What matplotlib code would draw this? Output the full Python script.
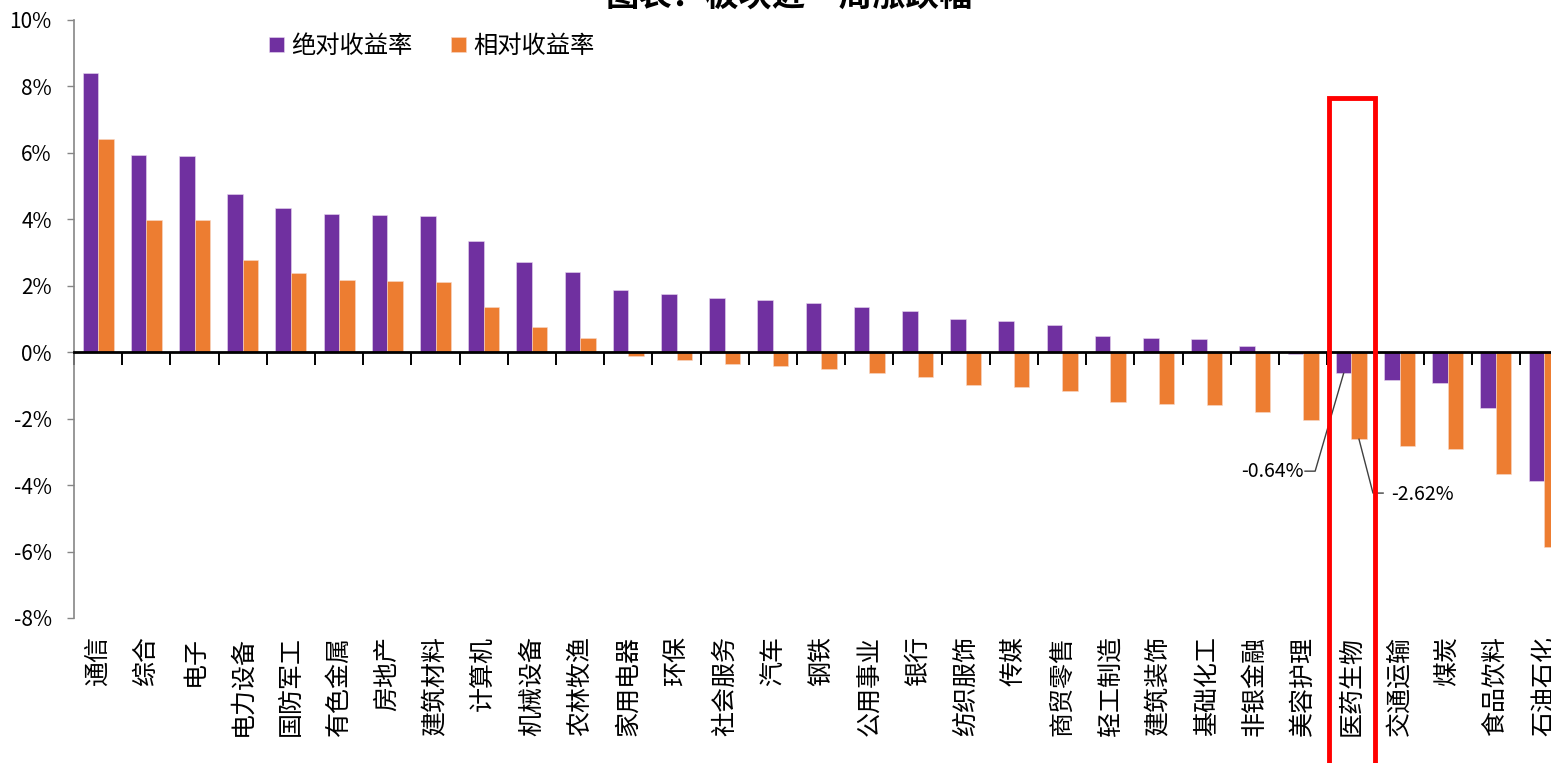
import matplotlib.pyplot as plt
import numpy as np

plt.rcParams['font.family'] = ['Noto Sans CJK SC', 'DejaVu Sans']

# weekly returns by sector (%)
SECTORS = ['通信', '综合', '电子', '电力设备', '国防军工', '有色金属', '房地产',
           '建筑材料', '计算机', '机械设备', '农林牧渔', '家用电器', '环保', '社会服务',
           '汽车', '钢铁', '公用事业', '银行', '纺织服饰', '传媒', '商贸零售',
           '轻工制造', '建筑装饰', '基础化工', '非银金融', '美容护理', '医药生物',
           '交通运输', '煤炭', '食品饮料', '石油石化']
ABS_RET = [8.39, 5.95, 5.92, 4.75, 4.33, 4.15, 4.12, 4.09, 3.34, 2.71, 2.41,
           1.86, 1.74, 1.62, 1.56, 1.47, 1.35, 1.23, 0.99, 0.93, 0.81, 0.48,
           0.42, 0.39, 0.18, -0.05, -0.64, -0.84, -0.93, -1.68, -3.88]
REL_RET = [6.41, 3.97, 3.97, 2.77, 2.38, 2.17, 2.14, 2.11, 1.35, 0.75, 0.42,
           -0.12, -0.24, -0.36, -0.42, -0.50, -0.63, -0.75, -0.99, -1.05, -1.17,
           -1.50, -1.56, -1.59, -1.80, -2.04, -2.62, -2.83, -2.92, -3.67, -5.86]
HIGHLIGHT = '医药生物'

PURPLE = '#7030A0'
ORANGE = '#ED7D31'
W, H = 1551, 763


def main():
    fig = plt.figure(figsize=(W / 100, H / 100), dpi=100)
    ax = fig.add_axes([74 / W, 1 - 618 / H, 1 - 74 / W, (618 - 20) / H])

    x = np.arange(len(SECTORS))
    bw = 0.32
    ax.bar(x - bw / 2, ABS_RET, bw, color=PURPLE, edgecolor='#e8d8f0',
           linewidth=0.4, label='绝对收益率', zorder=2)
    ax.bar(x + bw / 2, REL_RET, bw, color=ORANGE, edgecolor='#f8d8c8',
           linewidth=0.4, label='相对收益率', zorder=2)

    # axes styling
    ax.set_xlim(-0.5, (W - 74) / 48.2 - 0.5)
    ax.set_ylim(-8, 10)
    ax.set_yticks(np.arange(-8, 11, 2))
    ax.set_yticklabels([f'{v}%' for v in range(-8, 11, 2)], fontsize=15)
    ax.tick_params(axis='y', direction='out', length=5, color='#868686',
                   width=1, pad=11)
    for s in ['top', 'right']:
        ax.spines[s].set_visible(False)
    ax.spines['left'].set_color('#868686')
    ax.spines['left'].set_linewidth(1.2)

    # zero line acts as the category axis
    ax.spines['bottom'].set_position(('data', 0))
    ax.spines['bottom'].set_linewidth(2)
    ax.spines['bottom'].set_zorder(3)
    ax.set_xticks(np.arange(len(SECTORS)) - 0.5)
    ax.set_xticklabels([])
    ax.tick_params(axis='x', direction='out', length=9, width=1.4, color='black')

    # category labels below the plot area
    trans = ax.get_xaxis_transform()
    for i, name in enumerate(SECTORS):
        ax.text(i, -0.03, name, transform=trans, rotation=90, ha='center',
                va='top', fontsize=18, clip_on=False)

    # legend
    ax.legend(loc='center left', bbox_to_anchor=(269 / W, 1 - 46 / H),
              bbox_transform=fig.transFigure, ncol=2, frameon=False,
              fontsize=17.5, handlelength=0.6, handleheight=0.6,
              handletextpad=0.3, columnspacing=1.6, borderpad=0,
              borderaxespad=0)

    # value callouts for the highlighted sector
    k = SECTORS.index(HIGHLIGHT)
    a, r = ABS_RET[k], REL_RET[k]
    ax.plot([k - 0.96, k - 0.75, k - bw / 2], [-3.58, -3.58, a],
            color='#404040', linewidth=1)
    ax.text(k - 0.98, -3.58, f'{a:.2f}%', ha='right', va='center', fontsize=14)
    ax.plot([k + bw / 2, k + 0.45, k + 0.66], [r, -4.24, -4.24],
            color='#404040', linewidth=1)
    ax.text(k + 0.82, -4.28, f'{r:.2f}%', ha='left', va='center', fontsize=14)

    # red frame around the highlighted sector
    x0 = ax.transData.transform((k - 0.5, 0))[0] / W
    x1 = ax.transData.transform((k + 0.5, 0))[0] / W
    fig.add_artist(plt.Rectangle((x0 + 2 / W, -0.05), x1 - x0 - 2 / W,
                                 1 - 98 / H + 0.05, fill=False,
                                 edgecolor='#FF0000', linewidth=3.5,
                                 transform=fig.transFigure, zorder=5))

    # title
    fig.text(789 / W, 1 + 4 / H, '图表：板块近一周涨跌幅', ha='center',
             va='center', fontsize=24, fontweight='bold')

    fig.savefig('out.png', dpi=100)


if __name__ == '__main__':
    main()
